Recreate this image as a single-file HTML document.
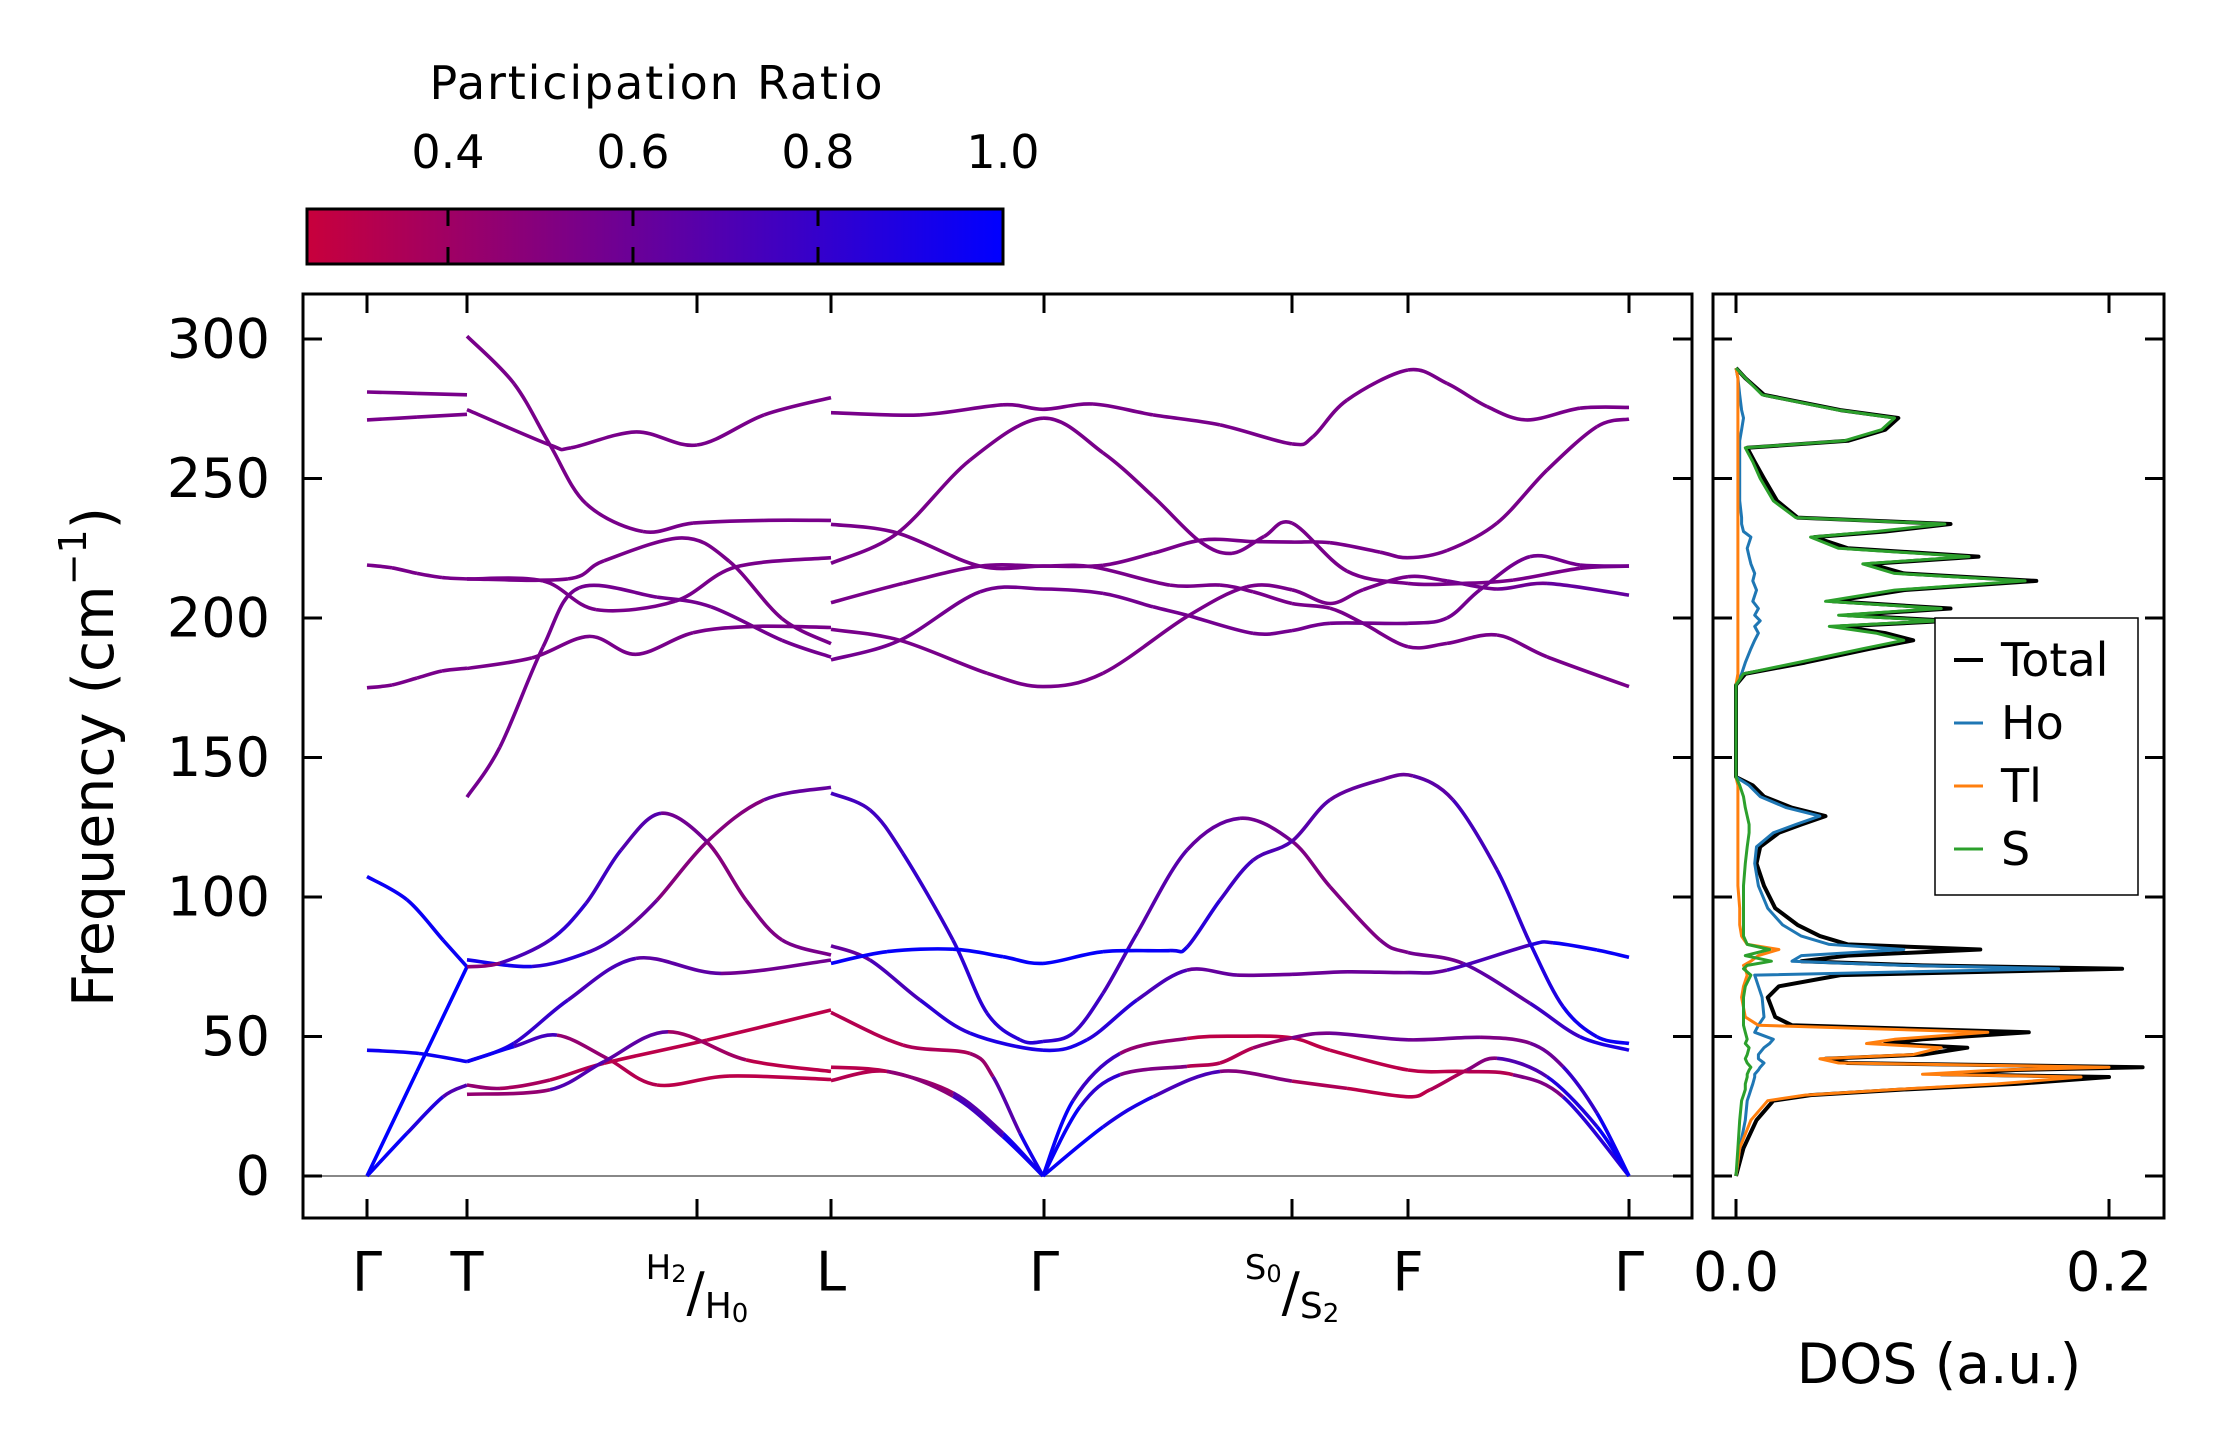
<!DOCTYPE html>
<html><head><meta charset="utf-8"><style>
html,body{margin:0;padding:0;background:#fff;}
svg{display:block;font-family:"DejaVu Sans","Liberation Sans",sans-serif;}
</style></head><body>
<svg id="fig" width="2222" height="1455" viewBox="0 0 2222 1455" xmlns="http://www.w3.org/2000/svg">
<defs>
<linearGradient id="cmapgrad" x1="0" x2="1" y1="0" y2="0">
<stop offset="0" stop-color="rgb(200,0,60)"/><stop offset="1" stop-color="rgb(0,0,255)"/>
</linearGradient>
<clipPath id="bandclip"><rect x="303" y="294" width="1389" height="924"/></clipPath>
<clipPath id="dosclip"><rect x="1713" y="294" width="451" height="924"/></clipPath>
</defs>
<g>
<text x="656" y="83" font-size="46" text-anchor="middle" dominant-baseline="central" textLength="453">Participation Ratio</text>
<rect x="307" y="209" width="696" height="55" fill="url(#cmapgrad)" stroke="#000" stroke-width="3"/>
<g id="cbticks"></g>
</g>
<g id="bandpanel">
<line x1="303" x2="1692" y1="1176" y2="1176" stroke="#888" stroke-width="2"/>
<g id="bands" clip-path="url(#bandclip)"></g>
<rect x="303" y="294" width="1389" height="924" fill="none" stroke="#000" stroke-width="3"/>
<g id="bandticks"></g>
<text x="94" y="757" font-size="57" text-anchor="middle" dominant-baseline="central" transform="rotate(-90 94 757)">Frequency (cm<tspan font-size="38" dy="-21">−1</tspan><tspan dy="21">)</tspan></text>
</g>
<g id="dospanel">
<g id="dos" clip-path="url(#dosclip)"></g>
<rect x="1713" y="294" width="451" height="924" fill="none" stroke="#000" stroke-width="3"/>
<g id="dosticks"></g>
<text x="1939" y="1364" font-size="55" text-anchor="middle" dominant-baseline="central">DOS (a.u.)</text>
<g>
<rect x="1935" y="618" width="203" height="277" fill="#fff" stroke="#000" stroke-width="1.5"/>
<g id="legend"></g>
</g>
</g>
</svg>
<script>
// ---------- data ----------
const kTickPos = [0, 100, 330, 464, 677, 925, 1041, 1262];
const kTickLabels = ["Γ", "T", "H", "L", "Γ", "S", "F", "Γ"];
const freqTicks = [0, 50, 100, 150, 200, 250, 300];
const cbarTicks = [0.4, 0.6, 0.8, 1.0];
const dosTicks = [0.0, 0.2];

// Γ–T
const bG1 = {k:[0,50,100], f:[281,280.5,280], pr:0.55};
const bG2 = {k:[0,50,100], f:[271,272,273], pr:0.55};
const bG3 = {k:[0,25,50,75,100], f:[219,218,216,214.5,214], pr:0.55};
const bG4 = {k:[0,25,50,75,100], f:[175,176,178.5,181,182], pr:0.55};
const bG5 = {k:[0,40,76,100], f:[107.3,99,84.6,75], pr:0.96};
const bG6 = {k:[0,52,100], f:[45.1,43.9,41], pr:0.95};
const bG7 = {k:[0,50,100], f:[0,37.5,75], pr:1.0};
const bG8 = {k:[0,40,76,100], f:[0,15.3,28.4,32.6], pr:[1,0.95,0.8,0.6]};
// T–H–L upper
const bA = {k:[100,147,183,219,276,326,397,464], f:[301,284,262,241,231,234,235,235], pr:0.55};
const bB = {k:[100,183,204,269,330,397,464], f:[274.7,262,261,266.7,262,272.8,279], pr:0.55};
const bC = {k:[100,201,237,315,362,415,464], f:[214,214,220.5,228.7,220.4,199.8,190.8], pr:0.55};
const bD = {k:[100,176,229,308,369,464], f:[214,213.3,203,206,218.3,221.6], pr:0.55};
const bE = {k:[100,133,176,212,290,344,415,464], f:[135.8,153.8,189.6,210.8,207.5,204,192,186], pr:0.57};
const bF = {k:[100,165,222,269,326,387,464], f:[181.9,185.7,193.4,187,194.7,197,196.6], pr:0.55};
// T–H–L lower
const bP = {k:[100,165,219,254,290,340,397,464], f:[77.5,75.1,79.9,87,98.9,119.8,134.8,139.3], pr:[0.95,0.9,0.78,0.7,0.55,0.45,0.55,0.7]};
const bQ2 = {k:[100,133,183,219,254,294,340,379,415,464], f:[75,76.3,84.6,97.7,116.8,130,119.8,98.9,84.6,79.2], pr:[0.35,0.6,0.85,0.8,0.72,0.65,0.5,0.5,0.55,0.55]};
const bQ = {k:[100,147,201,269,354,464], f:[41,47.6,63.1,78,72.6,77.4], pr:[0.9,0.85,0.75,0.7,0.6,0.55]};
const bR = {k:[100,147,190,240,290,362,464], f:[41,46.4,50.5,42.2,32.6,35.8,34.6], pr:[0.95,0.95,0.55,0.35,0.3,0.3,0.3]};
const bS = {k:[100,133,183,237,340,464], f:[32.6,31.4,34.4,40.4,48.7,59.5], pr:[0.5,0.4,0.35,0.3,0.3,0.3]};
const bU = {k:[100,183,237,301,379,464], f:[29.3,30.9,41,51.7,41.6,37.5], pr:[0.3,0.6,0.8,0.5,0.3,0.3]};
// L–Γ–S–F–Γ upper
const bU1 = {k:[464,553,636,676,726,786,853,925,946,980,1041,1080,1120,1160,1213,1262], f:[273.6,272.8,276.4,274.8,276.7,272.8,269.2,262.4,265,278.1,288.9,284.1,275.8,271,275.2,275.5], pr:0.55};
const bU2 = {k:[464,530,603,676,736,786,833,865,897,925,980,1041,1096,1146,1213,1262], f:[219.6,230.3,256.6,271.6,259.2,243.6,227.4,223.2,229.2,234,216.8,212.4,212.4,213.6,217.8,218.6], pr:0.55};
const bU3 = {k:[464,530,613,676,726,803,853,886,925,963,996,1041,1080,1130,1180,1262], f:[233.6,230.5,218.6,218.6,218.3,211.8,211.8,209.4,205.2,203.5,198.1,189.7,190.9,193.9,186.1,175.4], pr:0.55};
const bU4 = {k:[464,536,613,676,736,786,836,886,925,963,1013,1041,1080,1130,1180,1230,1262], f:[205.5,212.4,218.6,218.6,218.9,223.2,228,227.4,227.2,227,223.6,221.6,224.2,234,253,268.6,271.3], pr:0.55};
const bU5 = {k:[464,533,613,676,736,786,820,886,925,963,1041,1080,1113,1163,1213,1262], f:[185,192,209.4,210.4,208.8,204,201,194.5,195.5,198.1,198.1,200,210.1,222,219,218.6], pr:0.57};
const bU6 = {k:[464,533,620,676,736,820,880,925,963,996,1041,1080,1130,1180,1262], f:[195.9,192,180.2,175.4,180.2,200.5,211.2,210.1,205.2,210.1,214.8,213.3,210.4,212.4,208.2], pr:[0.55,0.55,0.55,0.55,0.55,0.55,0.55,0.55,0.55,0.55,0.55,0.56,0.58,0.6,0.65]};
// L–Γ–S–F–Γ lower
const bL1 = {k:[464,503,536,586,620,653,676,706,736,770,820,873,925,963,1013,1041,1096,1163,1213,1262], f:[137.2,131.2,115.6,84.5,58.4,48.8,48.2,51.2,65.5,87,116.8,128.2,120,103.7,84.6,80.1,76.2,61.9,49.9,45.1], pr:[0.75,0.75,0.78,0.82,0.85,0.85,0.85,0.8,0.75,0.7,0.65,0.6,0.55,0.5,0.55,0.55,0.6,0.7,0.85,0.95]};
const bL2 = {k:[464,503,553,603,676,720,770,820,870,925,980,1041,1080,1163,1186,1230,1262], f:[82.5,77.4,63.1,51.2,45.1,48.8,63.1,73.8,72,72.3,73.2,72.9,73.8,82.8,83.6,81,78.4], pr:[0.6,0.65,0.8,0.88,0.92,0.9,0.8,0.65,0.6,0.6,0.6,0.6,0.65,0.8,0.95,0.97,0.97]};
const bL3 = {k:[464,520,586,636,676,736,803,820,853,886,925,963,1013,1046,1086,1130,1163,1196,1230,1262], f:[76.2,80.4,81.3,78.6,76.2,80.4,80.8,82,98.9,113.2,120,134.8,141.9,143.4,134.8,109.7,83.5,60.7,49.9,47.5], pr:[0.97,0.98,0.98,0.98,0.98,0.98,0.97,0.9,0.8,0.72,0.7,0.65,0.6,0.62,0.7,0.78,0.85,0.92,0.95,0.97]};
const bL4 = {k:[464,536,603,626,653,676], f:[58.6,46.9,43.9,35.6,15.3,0], pr:[0.3,0.35,0.35,0.5,0.85,1]};
const bL5 = {k:[464,520,586,636,676], f:[39,37.5,29.8,15.3,0], pr:[0.3,0.32,0.5,0.85,1]};
const bL6 = {k:[464,520,586,636,676], f:[34.2,37.5,28.6,14.1,0], pr:[0.3,0.35,0.6,0.9,1]};
const bM1 = {k:[676,706,753,820,873,925,963,1041,1096,1146,1196,1262], f:[0,27,43.9,49.3,50.1,49.5,45.1,38,37.5,36.3,28.4,0], pr:[1,0.95,0.6,0.3,0.28,0.28,0.3,0.3,0.3,0.35,0.7,1]};
const bM2 = {k:[676,713,753,820,853,886,925,963,1041,1113,1163,1196,1230,1262], f:[0,24.8,36.3,39.3,40.5,45.9,49.5,51.2,48.8,49.7,47.6,39.2,22.5,0], pr:[1,0.95,0.7,0.35,0.3,0.35,0.5,0.6,0.6,0.55,0.5,0.7,0.9,1]};
const bM3 = {k:[676,736,786,853,925,980,1041,1063,1100,1130,1180,1230,1262], f:[0,17.6,28.4,37.5,34,31.4,28.4,30.9,38,42.2,35.6,17.7,0], pr:[1,0.95,0.85,0.6,0.4,0.3,0.3,0.3,0.4,0.6,0.8,0.95,1]};

const bandList = [bG1,bG2,bG3,bG4,bG5,bG6,bG7,bG8,bA,bB,bC,bD,bE,bF,bP,bQ2,bQ,bR,bS,bU,bU1,bU2,bU3,bU4,bU5,bU6,bL1,bL2,bL3,bL4,bL5,bL6,bM1,bM2,bM3];

// DOS
const dosFreq = [0,10,20,27,29,31,33,35.5,36.5,38, 39,40.5,42,43.5,46,47.5,49,51.5,54,57, 64,68,72,74.3,75.5,77,79,81.2,83,86, 90,96,104,112,118,123,126,129,132,136, 140,143,150,170,176,180,184,189,192,194.6, 197,199,201,203.4,206,210,213.3,216,219.4,222, 225,229,231,233.7,236,242,250,256,261,263.5, 267.5,271.7,274.5,280,286,289.6];
const dosTotal = [0,.004,.011,.02,.04,.09,.15,.20,.11,.15, .218,.06,.048,.10,.124,.08,.10,.157,.03,.021, .017,.023,.056,.207,.10,.035,.06,.131,.06,.045, .033,.021,.015,.011,.013,.023,.035,.048,.03,.015, .009,0,0,0,0,.005,.037,.072,.095,.08, .056,.115,.06,.115,.052,.09,.161,.09,.072,.13, .06,.042,.08,.115,.033,.022,.015,.01,.006,.06, .08,.087,.056,.015,.005,0];
const dosHo = [0,.002,.005,.006,.007,.008,.009,.01,.01,.012, .013,.015,.012,.012,.015,.018,.02,.01,.012,.015, .014,.012,.01,.173,.09,.03,.035,.09,.05,.035, .025,.017,.012,.01,.011,.02,.032,.045,.027,.013, .007,0,0,0,0,.003,.005,.008,.01,.012, .01,.013,.01,.012,.009,.011,.009,.01,.008,.007, .006,.008,.004,.003,.003,.002,.002,.002,.002,.002, .003,.004,.003,.002,.001,0];
const dosTl = [0,.002,.008,.017,.037,.085,.14,.185,.10,.14, .20,.055,.045,.095,.11,.07,.085,.135,.012,.005, .003,.004,.006,.005,.004,.008,.012,.023,.006,.003, .002,.002,.001,.001,.001,.001,.001,.001,.001,.001, .001,0,0,0,0,.001,.001,.001,.001,.001, .001,.001,.001,.001,.001,.001,.001,.001,.001,.001, .001,.001,.001,.001,.001,.001,.001,.001,.001,.001, .001,.001,.001,.001,.001,0];
const dosS = [0,.001,.002,.003,.004,.005,.005,.006,.006,.007, .008,.006,.005,.006,.007,.005,.006,.005,.004,.004, .004,.005,.008,.004,.006,.019,.005,.018,.006,.004, .004,.004,.004,.005,.006,.007,.007,.006,.005,.004, .002,0,0,0,0,.004,.033,.068,.09,.075, .05,.11,.055,.11,.048,.085,.155,.085,.068,.125, .055,.04,.075,.112,.032,.02,.013,.009,.005,.058, .078,.085,.055,.014,.005,0];
const legendLabels = ["Total","Ho","Tl","S"];
const legendColors = ["#000000","#1f77b4","#ff7f0e","#2ca02c"];

// ---------- scales ----------
const NS = "http://www.w3.org/2000/svg";
function xk(k){ return 367 + (k - 0) * (1629 - 367) / 1262; }
function yf(f){ return 1176 - f * 837 / 300; }
function xd(v){ return 1736 + v * 1865; }
function xc(p){ return 307 + (p - 0.2476) * (1003 - 307) / (1.0 - 0.2476); }
function cmap(p){ let t=(p-0.25)/0.75; t=Math.max(0,Math.min(1,t));
  return "rgb("+Math.round(200*(1-t))+",0,"+Math.round(60+195*t)+")"; }
function mk(tag, attrs, parent){ const e=document.createElementNS(NS,tag); for(const a in attrs) e.setAttribute(a,attrs[a]); parent.appendChild(e); return e; }

// ---------- colorbar ticks ----------
const cbg = document.getElementById("cbticks");
cbarTicks.forEach(function(p){
  const x = xc(p);
  if (p < 0.99) {
    const t1 = mk("line",{x1:x,x2:x,y1:209,y2:226,stroke:"#000","stroke-width":3},cbg);
    
    
    const t2 = mk("line",{x1:x,x2:x,y1:247,y2:264,stroke:"#000","stroke-width":3},cbg);
    
    
  }
  const tx = mk("text",{x:x,y:152,"font-size":46,"text-anchor":"middle","dominant-baseline":"central"},cbg);
  tx.textContent = p.toFixed(1);
  
  
});

// ---------- band axes ticks ----------
const btg = document.getElementById("bandticks");
freqTicks.forEach(function(f){
  const y = yf(f);
  const a = mk("line",{x1:303,x2:322,y1:y,y2:y,stroke:"#000","stroke-width":3},btg);
  
  
  const b = mk("line",{x1:1673,x2:1692,y1:y,y2:y,stroke:"#000","stroke-width":3},btg);
  
  
  const t = mk("text",{x:270,y:y,"font-size":54,"text-anchor":"end","dominant-baseline":"central"},btg);
  t.textContent = String(f);
  
  
});
kTickPos.forEach(function(k,i){
  const x = xk(k);
  const a = mk("line",{x1:x,x2:x,y1:294,y2:313,stroke:"#000","stroke-width":3},btg);
  
  
  const b = mk("line",{x1:x,x2:x,y1:1199,y2:1218,stroke:"#000","stroke-width":3},btg);
  
  
  const lab = kTickLabels[i];
  if (lab === "H" || lab === "S") {
    const t = mk("text",{x:x,y:1292,"font-size":52,"text-anchor":"middle","dominant-baseline":"central"},btg);
    const s1 = mk("tspan",{"font-size":34,dy:-24},t); s1.textContent = lab;
    const s1b = mk("tspan",{"font-size":24,dy:6},t); s1b.textContent = (lab==="H"?"2":"0");
    const s2 = mk("tspan",{"font-size":54,dy:18},t); s2.textContent = "/";
    const s3 = mk("tspan",{"font-size":36,dy:14},t); s3.textContent = lab;
    const s3b = mk("tspan",{"font-size":26,dy:8},t); s3b.textContent = (lab==="H"?"0":"2");
    
    
  } else {
    const t = mk("text",{x:x,y:1272,"font-size":54,"text-anchor":"middle","dominant-baseline":"central"},btg);
    t.textContent = lab;
    
    
  }
});

// ---------- bands ----------
const bg = document.getElementById("bands");
bandList.forEach(function(b, bi){
  const n = b.k.length;
  const P = b.k.map(function(k,i){ return [xk(k), yf(b.f[i])]; });
  const prs = Array.isArray(b.pr) ? b.pr : b.k.map(function(){ return b.pr; });
  for (let i=0;i<n-1;i++){
    const p0=P[Math.max(0,i-1)], p1=P[i], p2=P[i+1], p3=P[Math.min(n-1,i+2)];
    const c1=[p1[0]+(p2[0]-p0[0])/6, p1[1]+(p2[1]-p0[1])/6];
    const c2=[p2[0]-(p3[0]-p1[0])/6, p2[1]-(p3[1]-p1[1])/6];
    const d="M"+p1[0].toFixed(1)+","+p1[1].toFixed(1)+" C"+c1[0].toFixed(1)+","+c1[1].toFixed(1)+" "+c2[0].toFixed(1)+","+c2[1].toFixed(1)+" "+p2[0].toFixed(1)+","+p2[1].toFixed(1);
    const seg = mk("path",{d:d,fill:"none",stroke:cmap((prs[i]+prs[i+1])/2),"stroke-width":3.6,"stroke-linecap":"butt"},bg);
    
    
  }
});

// ---------- DOS ----------
const dg = document.getElementById("dos");
const dosSeries = [dosTotal, dosHo, dosTl, dosS];
dosSeries.forEach(function(arr, si){
  const pts = arr.map(function(v,i){ return xd(v).toFixed(1)+","+yf(dosFreq[i]).toFixed(1); }).join(" ");
  const pl = mk("polyline",{points:pts,fill:"none",stroke:legendColors[si],"stroke-width":si===0?4:3,"stroke-linejoin":"round"},dg);
  
  
});
const dtg = document.getElementById("dosticks");
freqTicks.forEach(function(f){
  const y = yf(f);
  const a = mk("line",{x1:1713,x2:1732,y1:y,y2:y,stroke:"#000","stroke-width":3},dtg);
  
  
  const b = mk("line",{x1:2145,x2:2164,y1:y,y2:y,stroke:"#000","stroke-width":3},dtg);
  
  
});
dosTicks.forEach(function(v){
  const x = xd(v);
  const a = mk("line",{x1:x,x2:x,y1:294,y2:313,stroke:"#000","stroke-width":3},dtg);
  
  
  const b = mk("line",{x1:x,x2:x,y1:1199,y2:1218,stroke:"#000","stroke-width":3},dtg);
  
  
  const t = mk("text",{x:x,y:1272,"font-size":54,"text-anchor":"middle","dominant-baseline":"central"},dtg);
  t.textContent = v.toFixed(1);
  
  
});

// ---------- legend ----------
const lg = document.getElementById("legend");
legendLabels.forEach(function(lab, i){
  const y = 660 + i * 63;
  const ln = mk("line",{x1:1954,x2:1983,y1:y,y2:y,stroke:legendColors[i],"stroke-width":i===0?4:3},lg);
  
  
  const t = mk("text",{x:2001,y:y,"font-size":46,"dominant-baseline":"central"},lg);
  t.textContent = lab;
  
  
});
</script>
</body></html>
